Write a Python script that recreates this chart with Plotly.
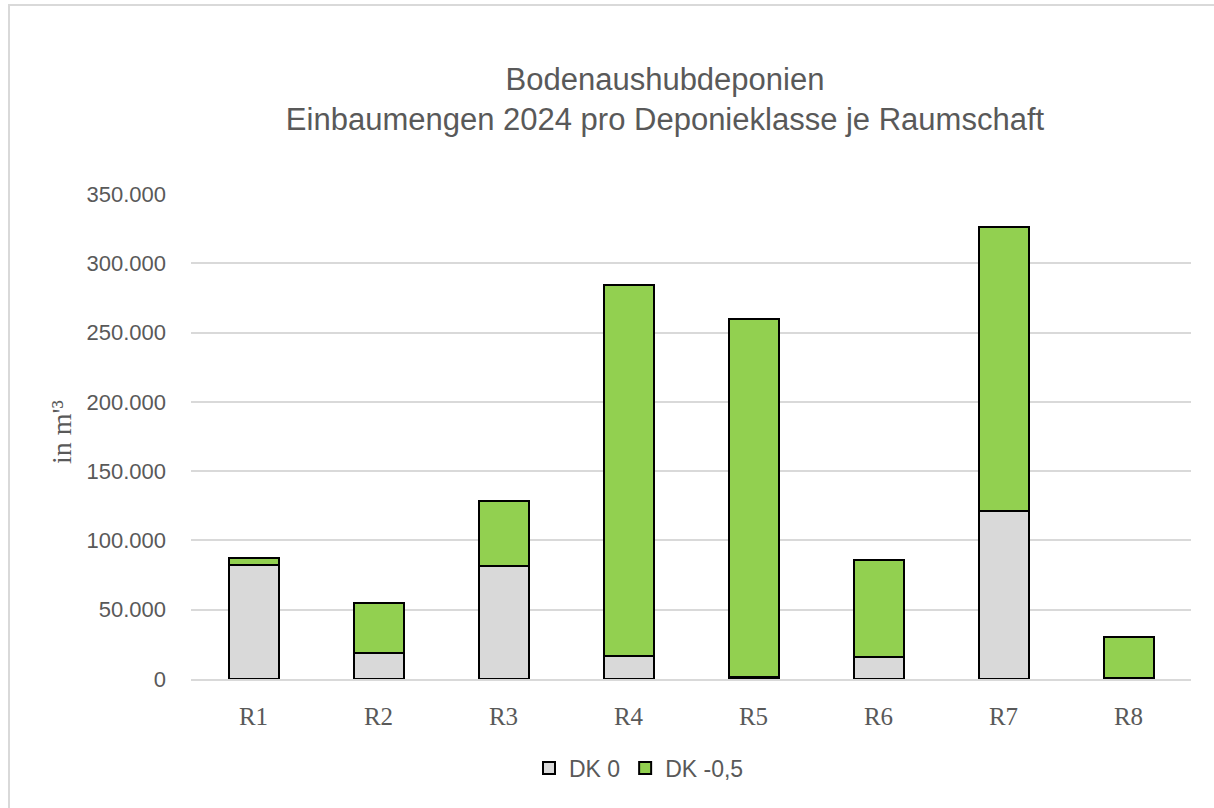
import plotly.graph_objects as go

categories = ["R1", "R2", "R3", "R4", "R5", "R6", "R7", "R8"]
dk0 = [82000, 18800, 81500, 16600, 1500, 16100, 121200, 800]
dk05 = [5200, 35800, 46900, 267700, 258300, 69800, 204800, 29500]
tick_vals = [0, 50000, 100000, 150000, 200000, 250000, 300000, 350000]

W, H = 1214, 808
L, R, T, B = 191, 23, 194, 129
PW, PH = W - L - R, H - T - B

def px(x):
    return (x - L) / PW

def py(y):
    return (H - B - y) / PH

grey = "#595959"

fig = go.Figure()
fig.add_trace(go.Bar(x=categories, y=dk0, name="DK 0",
                     marker=dict(color="#d9d9d9", line=dict(color="black", width=2))))
fig.add_trace(go.Bar(x=categories, y=dk05, name="DK -0,5",
                     marker=dict(color="#92d050", line=dict(color="black", width=2))))

fig.update_layout(
    width=W, height=H,
    margin=dict(l=L, r=R, t=T, b=B),
    barmode="stack", bargap=0.6,
    plot_bgcolor="white", paper_bgcolor="white",
    separators=",.",
    font=dict(family="Liberation Sans, Arial", color=grey),
    title=dict(text="Bodenaushubdeponien<br>Einbaumengen 2024 pro Deponieklasse je Raumschaft",
               x=665 / W, xref="container", xanchor="center",
               y=1 - 90 / H, yref="container", yanchor="middle",
               font=dict(family="Liberation Sans, Arial", size=31, color=grey)),
    legend=dict(orientation="h", x=px(639), y=py(768), xanchor="center", yanchor="middle",
                font=dict(family="Liberation Sans, Arial", size=23, color=grey),
                traceorder="normal", itemwidth=30),
    showlegend=True,
)
fig.update_yaxes(range=[0, 350000], tickvals=tick_vals, tickformat=",d",
                 showgrid=True, gridcolor="#d9d9d9", gridwidth=1.5,
                 zeroline=False, showline=False,
                 ticks="", ticklabelstandoff=24,
                 tickfont=dict(family="Liberation Sans, Arial", size=22, color=grey))
fig.update_xaxes(showline=True, linecolor="#d9d9d9", linewidth=2,
                 ticks="", ticklabelstandoff=14,
                 tickfont=dict(family="Liberation Serif, Times New Roman", size=25, color=grey))

fig.add_annotation(text="in m'³", x=px(61), y=py(432), xref="paper", yref="paper",
                   xanchor="center", yanchor="middle",
                   textangle=-90, showarrow=False,
                   font=dict(family="Liberation Serif, Times New Roman", size=28, color=grey))

fig.add_shape(type="rect", xref="paper", yref="paper",
              x0=px(9), x1=px(1222), y0=py(816), y1=py(5),
              line=dict(color="#d9d9d9", width=2), fillcolor="rgba(0,0,0,0)", layer="below")

fig.write_html("out.html", config={"displayModeBar": False},
               post_script="document.body.style.margin='0';")
